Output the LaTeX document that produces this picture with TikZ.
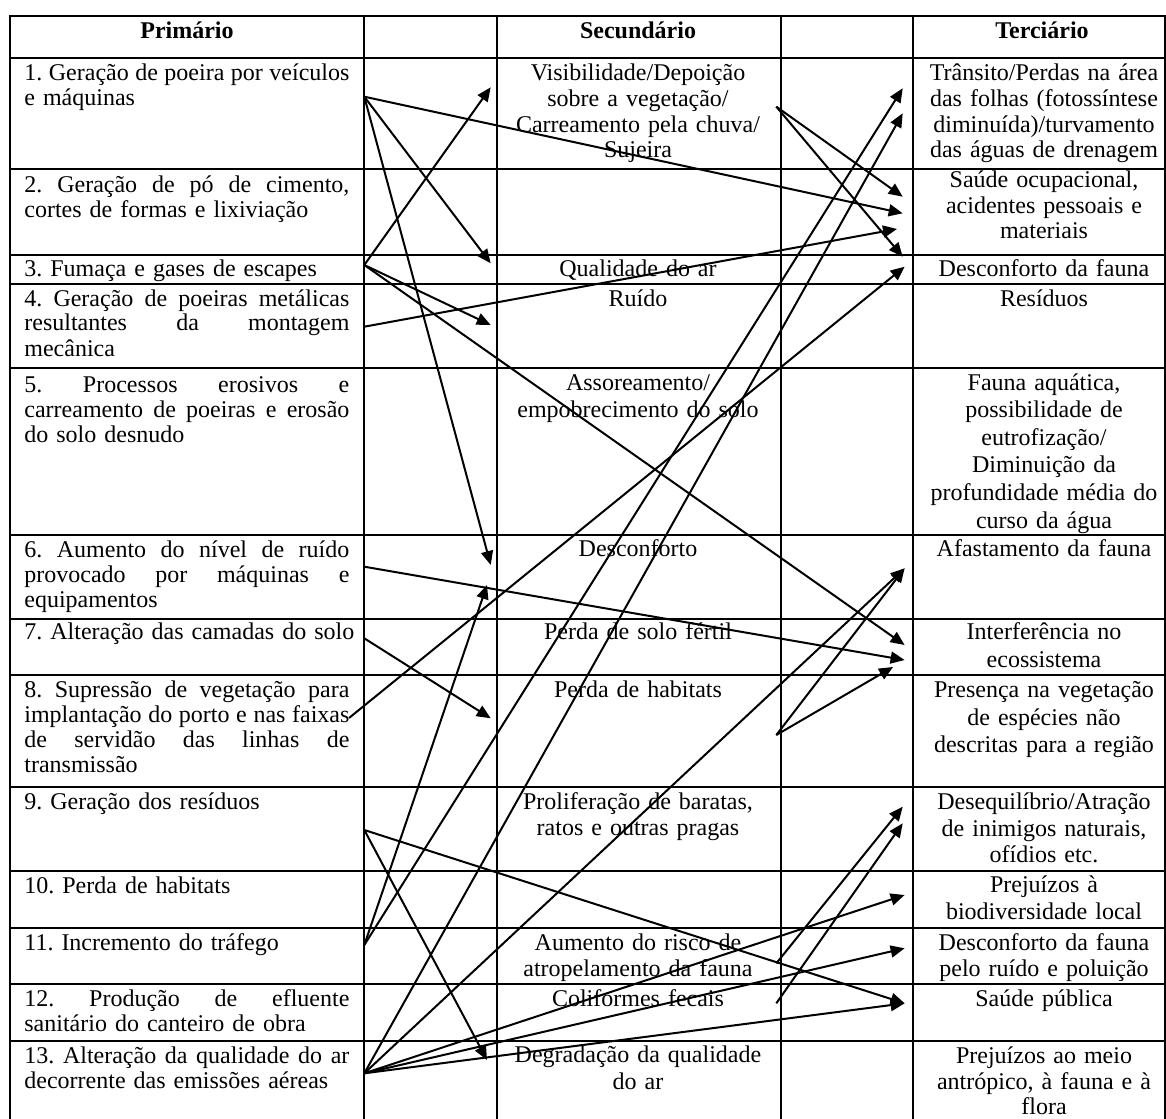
\documentclass[tikz,border=0pt]{standalone}
\usepackage{fontspec}
\setmainfont{Liberation Serif}
\usetikzlibrary{arrows.meta}

% body text at 12pt with a few line spacings
\newcommand\ftA{\fontsize{12}{12.5}\selectfont}
\newcommand\ftB{\fontsize{12}{12.8}\selectfont}
\newcommand\ftC{\fontsize{12}{13.35}\selectfont}
\newcommand\ftD{\fontsize{12}{13.8}\selectfont}
\newcommand\ftE{\fontsize{12}{14.15}\selectfont}
% a line stretched to the full width of the first column
\newcommand\jline[1]{\makebox[162.5pt][s]{\spaceskip=0.25em plus 1fil\relax #1}}
\frenchspacing

\begin{document}
\begin{tikzpicture}[x=0.5pt,y=-0.5pt,
  grid/.style={line width=1pt},
  lefttext/.style={anchor=base west, inner sep=0pt, text width=168pt, align=left, font=\ftA},
  midtext/.style={anchor=base, inner sep=0pt, text width=140pt, align=center, font=\ftB},
  rtext/.style={anchor=base, inner sep=0pt, text width=128pt, align=center, font=\ftB},
  head/.style={anchor=base, inner sep=0pt, font=\bfseries\ftA},
  link/.style={line width=1pt, -{Triangle[length=7pt,width=6pt]}}]

\useasboundingbox (0,0) rectangle (1166,1118);
\clip (0,0) rectangle (1166,1118);

% table frame and rules
\draw[grid] (10,15.7) rectangle (1165,1130);
\foreach \x in {364,497,781,913}
  \draw[grid] (\x,15.7) -- (\x,1130);
\foreach \y in {58.3,169.3,255,284,367.7,535,619,675,786.7,870.7,927.7,984,1040.7}
  \draw[grid] (10,\y) -- (1165,\y);

% header
\node[head] (h1) at (187,39) {Primário};
\node[head] (h3) at (638,39) {Secundário};
\node[head] (h5) at (1042,39) {Terciário};

% primary effects
\node[lefttext] (p1) at (24,81) {\jline{1. Geração de poeira por veículos}\\ e máquinas};
\node[lefttext] (p2) at (24,193) {\jline{2. Geração de pó de cimento,}\\ cortes de formas e lixiviação};
\node[lefttext] (p3) at (24,276) {3. Fumaça e gases de escapes};
\node[lefttext] (p4) at (24,306) {\jline{4. Geração de poeiras metálicas}\\ \jline{resultantes da montagem}\\ mecânica};
\node[lefttext] (p5) at (24,392.7) {\jline{5. Processos erosivos e}\\ \jline{carreamento de poeiras e erosão}\\ do solo desnudo};
\node[lefttext] (p6) at (24,557.7) {\jline{6. Aumento do nível de ruído}\\ \jline{provocado por máquinas e}\\ equipamentos};
\node[lefttext] (p7) at (24,639) {7. Alteração das camadas do solo};
\node[lefttext] (p8) at (24,697.7) {\jline{8. Supressão de vegetação para}\\ \jline{implantação do porto e nas faixas}\\ \jline{de servidão das linhas de}\\ transmissão};
\node[lefttext] (p9) at (24,809) {9. Geração dos resíduos};
\node[lefttext] (p10) at (24,893) {10. Perda de habitats};
\node[lefttext] (p11) at (24,950) {11. Incremento do tráfego};
\node[lefttext] (p12) at (24,1006) {\jline{12. Produção de efluente}\\ sanitário do canteiro de obra};
\node[lefttext] (p13) at (24,1063) {\jline{13. Alteração da qualidade do ar}\\ decorrente das emissões aéreas};

% secondary effects
\node[midtext] (s1) at (638,81) {Visibilidade/Depoição\\ sobre a vegetação/\\ Carreamento pela chuva/\\ Sujeira};
\node[midtext] (s3) at (638,276) {Qualidade do ar};
\node[midtext] (s4) at (638,306) {Ruído};
\node[midtext, font=\ftD] (s5) at (638,390) {Assoreamento/\\ empobrecimento do solo};
\node[midtext] (s6) at (638,556) {Desconforto};
\node[midtext] (s7) at (638,639) {Perda de solo fértil};
\node[midtext] (s8) at (638,697.7) {Perda de habitats};
\node[midtext, font=\ftC] (s9) at (638,809) {Proliferação de baratas,\\ ratos e outras pragas};
\node[midtext, font=\ftC] (s11) at (638,950) {Aumento do risco de\\ atropelamento da fauna};
\node[midtext] (s12) at (638,1006) {Coliformes fecais};
\node[midtext, font=\ftC] (s13) at (638,1062.7) {Degradação da qualidade\\ do ar};

% tertiary effects
\node[rtext] (t1) at (1044,81) {Trânsito/Perdas na área\\ das folhas (fotossíntese\\ diminuída)/turvamento\\ das águas de drenagem};
\node[rtext] (t2) at (1044,187.7) {Saúde ocupacional,\\ acidentes pessoais e\\ materiais};
\node[rtext] (t3) at (1044,276) {Desconforto da fauna};
\node[rtext] (t4) at (1044,306) {Resíduos};
\node[rtext, font=\ftD] (t5) at (1044,390) {Fauna aquática,\\ possibilidade de\\ eutrofização/\\ Diminuição da\\ profundidade média do\\ curso da água};
\node[rtext] (t6) at (1044,556) {Afastamento da fauna};
\node[rtext, font=\ftE] (t7) at (1044,639) {Interferência no\\ ecossistema};
\node[rtext, font=\ftD] (t8) at (1044,697.7) {Presença na vegetação\\ de espécies não\\ descritas para a região};
\node[rtext, font=\ftC] (t9) at (1044,809.3) {Desequilíbrio/Atração\\ de inimigos naturais,\\ ofídios etc.};
\node[rtext, font=\ftC] (t10) at (1044,892.7) {Prejuízos à\\ biodiversidade local};
\node[rtext, font=\ftC] (t11) at (1044,950) {Desconforto da fauna\\ pelo ruído e poluição};
\node[rtext] (t12) at (1044,1006) {Saúde pública};
\node[rtext] (t13) at (1044,1063.5) {Prejuízos ao meio\\ antrópico, à fauna e à\\ flora};

% arrow origins
\coordinate (a1) at (364.3,96.7);
\coordinate (a3) at (364.3,265);
\coordinate (a4) at (364.3,326.7);
\coordinate (a6) at (364.3,566.7);
\coordinate (a7) at (364.3,638.3);
\coordinate (a8) at (349,718);
\coordinate (a9) at (364.3,830);
\coordinate (a11) at (364.3,945);
\coordinate (a13) at (364.3,1073.3);
\coordinate (b1) at (776.3,106.7);
\coordinate (b8) at (776.3,735);
\coordinate (b11) at (776.3,963.3);
\coordinate (b12) at (776.3,1003.3);

% arrow ends, secondary column
\coordinate (vis) at (490.7,87.3);
\coordinate (qual) at (490.7,263.3);
\coordinate (ruido) at (490.7,325);
\coordinate (desc1) at (490.7,565);
\coordinate (desc2) at (487,585);
\coordinate (habit) at (490.7,718.3);
\coordinate (degr) at (487,1060);

% arrow ends, tertiary column
\coordinate (tran1) at (902.7,88.3);
\coordinate (tran2) at (902.7,113.3);
\coordinate (saude1) at (902.7,196.7);
\coordinate (saude2) at (902.7,213.3);
\coordinate (saude3) at (897,229);
\coordinate (fauna1) at (902.7,256.7);
\coordinate (fauna2) at (904.6,266.7);
\coordinate (afast) at (904.6,568.3);
\coordinate (inter1) at (904.6,645);
\coordinate (inter2) at (904.6,660);
\coordinate (inter3) at (893,667);
\coordinate (deseq1) at (902.7,806.7);
\coordinate (deseq2) at (902.7,823.3);
\coordinate (biod) at (904.6,895);
\coordinate (ruidof) at (904.6,948.3);
\coordinate (publ) at (904.6,1003.3);

% links
\draw[link] (a1) -- (saude2);
\draw[link] (a1) -- (qual);
\draw[link] (a1) -- (desc1);
\draw[link] (a3) -- (vis);
\draw[link] (a3) -- (ruido);
\draw[link] (a3) -- (inter1);
\draw[link] (a4) -- (saude3);
\draw[link] (a6) -- (inter2);
\draw[link] (a7) -- (habit);
\draw[link] (a8) -- (fauna2);
\draw[link] (a9) -- (publ);
\draw[link] (a9) -- (degr);
\draw[link] (a11) -- (desc2);
\draw[link] (a11) -- (tran1);
\draw[link] (a13) -- (tran2);
\draw[link] (a13) -- (afast);
\draw[link] (a13) -- (biod);
\draw[link] (a13) -- (ruidof);
\draw[link] (a13) -- (publ);
\draw[link] (b1) -- (saude1);
\draw[link] (b1) -- (fauna1);
\draw[link] (b8) -- (afast);
\draw[link] (b8) -- (inter3);
\draw[link] (b11) -- (deseq1);
\draw[link] (b12) -- (deseq2);
\end{tikzpicture}
\end{document}
